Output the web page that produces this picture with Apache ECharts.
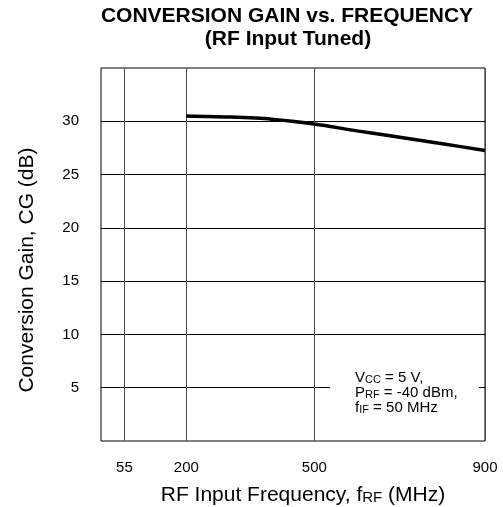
<!DOCTYPE html>
<html><head><meta charset="utf-8">
<script src="https://cdn.jsdelivr.net/npm/echarts@6/dist/echarts.min.js"></script>
<style>html,body{margin:0;padding:0;background:#fff}#c{width:503px;height:507px}</style>
</head><body><div id="c"></div>
<script>
const freq = [200, 300, 400, 500, 600, 700, 800, 900];
const gain = [30.5, 30.4, 30.2, 29.75, 29.1, 28.5, 27.9, 27.25];
const xTicks = [55, 200, 500, 900];
const yTicks = [5, 10, 15, 20, 25, 30];
const titleLines = ['CONVERSION GAIN vs. FREQUENCY', '(RF Input Tuned)'];

const FONT = '"Liberation Sans", Arial, sans-serif';
const chart = echarts.init(document.getElementById('c'));
chart.setOption({
  animation: false,
  backgroundColor: '#fff',
  grid: { left: 101, right: 18, top: 68, bottom: 66, show: true, borderColor: '#000', borderWidth: 1, backgroundColor: 'transparent' },
  xAxis: {
    type: 'value', min: 0, max: 900,
    axisLine: { show: false },
    axisTick: { show: false, customValues: xTicks },
    axisLabel: { customValues: xTicks, color: '#000', fontSize: 15, fontFamily: FONT, margin: 19 },
    splitLine: { show: true, lineStyle: { color: '#4a4a4a', width: 1 } }
  },
  yAxis: {
    type: 'value', min: 0, max: 35,
    axisLine: { show: false },
    axisTick: { show: false, customValues: yTicks },
    axisLabel: { customValues: yTicks, color: '#000', fontSize: 15, fontFamily: FONT, margin: 22 },
    splitLine: { show: true, lineStyle: { color: '#000', width: 1 } }
  },
  series: [{
    type: 'line',
    data: freq.map((f, i) => [f, gain[i]]),
    smooth: 0.3,
    symbol: 'none',
    lineStyle: { color: '#000', width: 3.5 },
    z: 5
  }],
  graphic: [
    { type: 'text', z: 100, style: { x: 287, y: 16, text: titleLines[0], font: 'bold 21px ' + FONT, fill: '#000', align: 'center', verticalAlign: 'middle' } },
    { type: 'text', z: 100, style: { x: 288, y: 39, text: titleLines[1], font: 'bold 21px ' + FONT, fill: '#000', align: 'center', verticalAlign: 'middle' } },
    { type: 'text', z: 100, style: {
        x: 303, y: 494, align: 'center', verticalAlign: 'middle',
        text: '{m|RF Input Frequency, f}{s|RF}{m| (MHz)}',
        rich: { m: { fontSize: 21, fontFamily: FONT, fill: '#000', verticalAlign: 'bottom', lineHeight: 23 },
                s: { fontSize: 15, fontFamily: FONT, fill: '#000', verticalAlign: 'bottom', lineHeight: 23 } }
    } },
    { type: 'text', z: 100, x: 27, y: 270, rotation: Math.PI / 2, style: {
        x: 0, y: 0, align: 'center', verticalAlign: 'middle',
        text: 'Conversion Gain, CG (dB)', font: '21px ' + FONT, fill: '#000'
    } },
    { type: 'rect', z: 99, shape: { x: 330, y: 366, width: 149, height: 50 }, style: { fill: '#fff' } },
    { type: 'text', z: 100, style: {
        x: 355, y: 370, align: 'left', verticalAlign: 'top',
        text: '{m|V}{s|CC}{m| = 5 V,}\n{m|P}{s|RF}{m| = -40 dBm,}\n{m|f}{s|IF}{m| = 50 MHz}',
        rich: { m: { fontSize: 15, fontFamily: FONT, fill: '#000', verticalAlign: 'bottom', lineHeight: 15 },
                s: { fontSize: 11, fontFamily: FONT, fill: '#000', verticalAlign: 'bottom', lineHeight: 15 } }
    } }
  ]
});
</script></body></html>
